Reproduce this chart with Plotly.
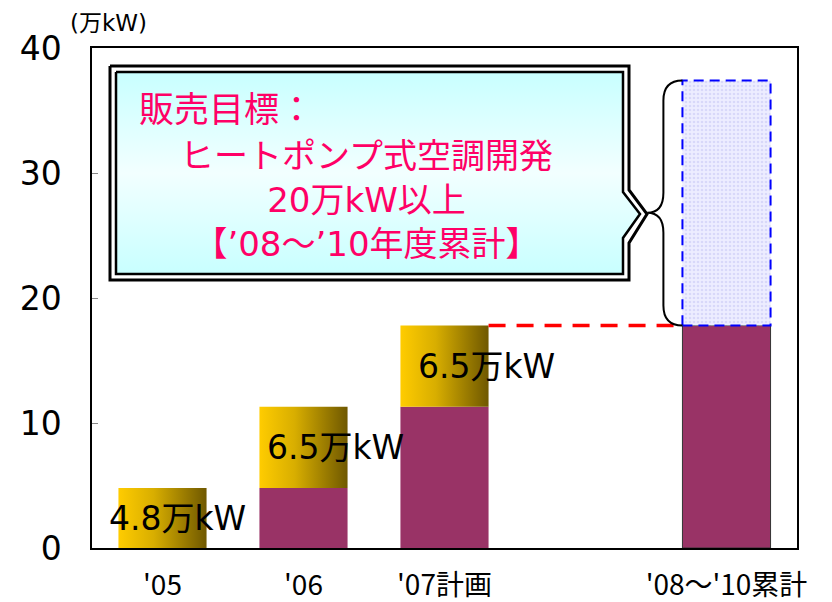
import plotly.graph_objects as go

# ---------------- data ----------------
x_labels = ["'05", "'06", "'07計画", "", "'08～'10累計"]
base_vals = [0, 4.8, 11.3, None, 17.8]       # purple (previous cumulative)
add_vals = [4.8, 6.5, 6.5, None, None]        # gold segment (new sales)
add_text = ["4.8万kW", "6.5万kW", "6.5万kW", None, None]
target_add = [None, None, None, None, 19.6]   # target box (20万kW以上)
y_ticks = [0, 10, 20, 30, 40]
unit_label = "(万kW)"
callout_lines = ["販売目標：", "ヒートポンプ式空調開発", "20万kW以上", "【’08～’10年度累計】"]

# ---------------- style ----------------
W = 0.625
PURPLE = "#993366"
GOLD_SCALE = [[0, "#FFCC00"], [0.4, "#D8AE00"], [1, "#6F5800"]]
PINK = "#FF0066"
JP = "Noto Sans CJK JP"
MIX = "DejaVu Sans, Noto Sans CJK JP"

pos = list(range(len(x_labels)))
fig = go.Figure()

# purple base bars
bx = [p for p, v in zip(pos, base_vals) if v]
by = [v for v in base_vals if v]
line_w = [1 if t else 0 for t in [target_add[p] for p in bx]]
fig.add_trace(go.Bar(x=bx, y=by, width=W, marker=dict(color=PURPLE,
                     line=dict(color="#333333", width=line_w)), hoverinfo="skip"))

# gold gradient segments
xshift = [15, 32, 42]
k = 0
for p, b, a, t in zip(pos, base_vals, add_vals, add_text):
    if a is None:
        continue
    x0, x1 = p - W / 2, p + W / 2
    y0, y1 = b, b + a
    fig.add_trace(go.Scatter(x=[x0, x1, x1, x0, x0], y=[y0, y0, y1, y1, y0],
                             mode="lines", fill="toself", line=dict(width=0),
                             fillgradient=dict(type="horizontal", colorscale=GOLD_SCALE),
                             hoverinfo="skip"))
    fig.add_annotation(x=p, y=(y0 + y1) / 2, text=t, showarrow=False, xshift=xshift[k],
                       font=dict(family=MIX, size=33, color="black"))
    k += 1

# target dashed box
for p, b, a in zip(pos, base_vals, target_add):
    if a is None:
        continue
    x0, x1 = p - W / 2, p + W / 2
    y0, y1 = b, b + a
    fig.add_trace(go.Scatter(x=[x0, x1, x1, x0, x0], y=[y0, y0, y1, y1, y0],
                             mode="lines", fill="toself", fillcolor="#EDEDFF",
                             fillpattern=dict(shape=".", fgcolor="#C4C4F4", bgcolor="#EDEDFF",
                                              size=4, solidity=0.35),
                             line=dict(color="#0000FF", width=2, dash="10px,6px"),
                             hoverinfo="skip"))
    # red dashed connector from '07 top
    prev = 2
    yc = base_vals[prev] + add_vals[prev]
    fig.add_trace(go.Scatter(x=[prev + W / 2, x0], y=[yc, yc], mode="lines",
                             line=dict(color="#FF0000", width=3.5, dash="17px,11px"),
                             hoverinfo="skip"))
    # brace
    xv, xt = x0 - 0.135, x0 - 0.25
    ym = y0 + 0.46 * (y1 - y0)
    r = 1.6
    path = (f"M {x0},{y1} Q {xv},{y1} {xv},{y1 - r} L {xv},{ym + r} "
            f"Q {xv},{ym} {xt},{ym} Q {xv},{ym} {xv},{ym - r} "
            f"L {xv},{y0 + r} Q {xv},{y0} {x0},{y0}")
    fig.add_shape(type="path", path=path, xref="x", yref="y",
                  line=dict(color="black", width=2))

# callout box (pixel-like overlay axes, window pixel units)
outer_x = [110, 629, 629, 647, 629, 629, 110, 110]
outer_y = [66, 66, 190, 214, 243, 280, 280, 66]
inner_x = [116, 623, 623, 640, 623, 623, 116, 116]
inner_y = [72, 72, 192, 214, 238, 274, 274, 72]
fig.add_trace(go.Scatter(x=outer_x, y=outer_y, xaxis="x2", yaxis="y2", mode="lines",
                         fill="toself", fillcolor="white", line=dict(color="black", width=3),
                         hoverinfo="skip"))
fig.add_trace(go.Scatter(x=inner_x, y=inner_y, xaxis="x2", yaxis="y2", mode="lines",
                         fill="toself", line=dict(color="black", width=2.5),
                         fillgradient=dict(type="vertical",
                                           colorscale=[[0, "#C8FFFF"], [0.5, "#F2FFFF"], [1, "#C8FFFF"]]),
                         hoverinfo="skip"))
fig.add_annotation(x=137, y=106, xref="x2", yref="y2", text=callout_lines[0], showarrow=False,
                   xanchor="left", font=dict(family=JP, size=35, color=PINK))
fig.add_annotation(x=366, y=200, xref="x2", yref="y2", text="<br>".join(callout_lines[1:]),
                   showarrow=False, align="center", xanchor="center", yanchor="middle",
                   font=dict(family=MIX, size=34, color=PINK))

fig.add_annotation(x=(108 - 92) / 705, y=(548 - 23) / 500, xref="paper", yref="paper",
                   text=unit_label, showarrow=False, xanchor="center", yanchor="middle",
                   font=dict(family=MIX, size=23, color="black"))

# page body has an 8px margin: figure is sized/margined so plot area sits at 92..797, 48..548
fig.update_layout(
    width=824, height=594, margin=dict(l=84, r=35, t=40, b=54),
    plot_bgcolor="white", paper_bgcolor="white", showlegend=False,
    xaxis=dict(range=[-0.5, 4.5], tickvals=pos, ticktext=x_labels, showgrid=False,
               zeroline=False, showline=True, linecolor="black", linewidth=1.5, mirror=True,
               ticks="", ticklabelstandoff=12, automargin=False,
               tickfont=dict(family=JP, size=28, color="black")),
    yaxis=dict(range=[0, 40], tickvals=y_ticks, showgrid=False, zeroline=False,
               showline=True, linecolor="black", linewidth=1.5, mirror=True,
               ticks="inside", ticklen=6, tickcolor="#888888", ticklabelstandoff=22,
               automargin=False,
               tickfont=dict(family="DejaVu Sans", size=33, color="black")),
    xaxis2=dict(overlaying="x", anchor="y2", range=[92, 797], visible=False),
    yaxis2=dict(overlaying="y", anchor="x2", range=[548, 48], visible=False),
)

fig.write_html("out.html")
